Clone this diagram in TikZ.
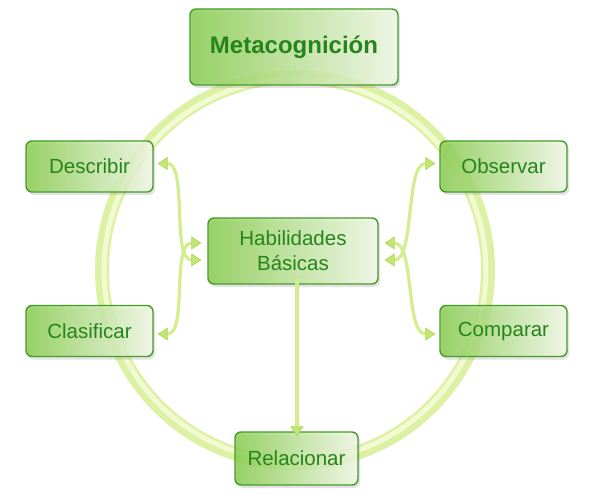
\documentclass[tikz,border=0pt]{standalone}
\usepackage{fontspec}
\setmainfont{Liberation Sans}
\usetikzlibrary{arrows.meta,shadows}
\definecolor{ringc}{RGB}{218,240,155}
\definecolor{ringhi}{RGB}{242,250,210}
\definecolor{boxdraw}{RGB}{70,155,45}
\definecolor{boxdark}{RGB}{135,205,75}
\definecolor{boxmid}{RGB}{215,240,185}
\definecolor{boxlight}{RGB}{242,250,230}
\definecolor{txt}{RGB}{38,132,28}
\definecolor{arrc}{RGB}{210,238,145}
\definecolor{arrtip}{RGB}{195,230,115}
\definecolor{arredge}{RGB}{170,215,90}
\tikzset{
  gtip/.tip={Triangle[width=13pt,length=10pt,fill=arrtip,color=arredge,line width=0.6pt]},
  boxnode/.style={draw=boxdraw, line width=1.4pt, rounded corners=6pt,
    left color=boxdark, middle color=boxmid, right color=boxlight,
    fill opacity=0.82, draw opacity=1, text opacity=1, text=txt, align=center,
    font=\fontsize{20.5}{25}\selectfont,
    drop shadow={opacity=0.22, shadow xshift=2pt, shadow yshift=-3pt}},
  small/.style={boxnode, minimum width=127pt, minimum height=51pt},
  conn/.style={draw=arrc, line width=3.2pt, gtip-gtip},
  oneway/.style={draw=arrc, line width=3.2pt, -gtip}
}
\begin{document}
\begin{tikzpicture}[x=1pt,y=-1pt]
\useasboundingbox (0,0) rectangle (600,500);
\fill[white] (0,0) rectangle (600,500);
% ring
\coordinate (ctr) at (295,270);
\draw[ringc, line width=14pt, opacity=0.9] (ctr) circle[radius=193];
\draw[ringhi, line width=5pt] (ctr) circle[radius=191];
% boxes
\node[boxnode, minimum width=208pt, minimum height=76pt, font=\fontsize{24}{28}\bfseries\selectfont] (meta) at (294,47) {Metacognición};
\node[boxnode, minimum width=170pt, minimum height=66pt] (hab) at (293,251) {Habilidades\\Básicas};
\node[small] (desc) at (89.5,166.5) {Describir};
\node[small] (obs) at (503.5,166.5) {Observar};
\node[small] (clas) at (89.5,331) {Clasificar};
\node[small] (comp) at (503.5,331) {Comparar};
\node[boxnode, minimum width=123pt, minimum height=53pt] (rel) at (296.5,458.5) {Relacionar};
% connectors
\draw[conn] ([xshift=4pt,yshift=3pt]desc.east) .. controls +(30,0) and +(-30,0) .. ([xshift=-6pt,yshift=-9pt]hab.west);
\draw[conn] ([xshift=4pt,yshift=-3pt]clas.east) .. controls +(30,0) and +(-30,0) .. ([xshift=-6pt,yshift=8pt]hab.west);
\draw[conn] ([xshift=-4pt,yshift=3pt]obs.west) .. controls +(-30,0) and +(30,0) .. ([xshift=6pt,yshift=-9pt]hab.east);
\draw[conn] ([xshift=-4pt,yshift=-3pt]comp.west) .. controls +(-30,0) and +(30,0) .. ([xshift=6pt,yshift=8pt]hab.east);
\draw[oneway] ([xshift=4pt,yshift=6pt]hab.south) -- ([xshift=0.5pt,yshift=-5pt]rel.north);
\end{tikzpicture}
\end{document}
